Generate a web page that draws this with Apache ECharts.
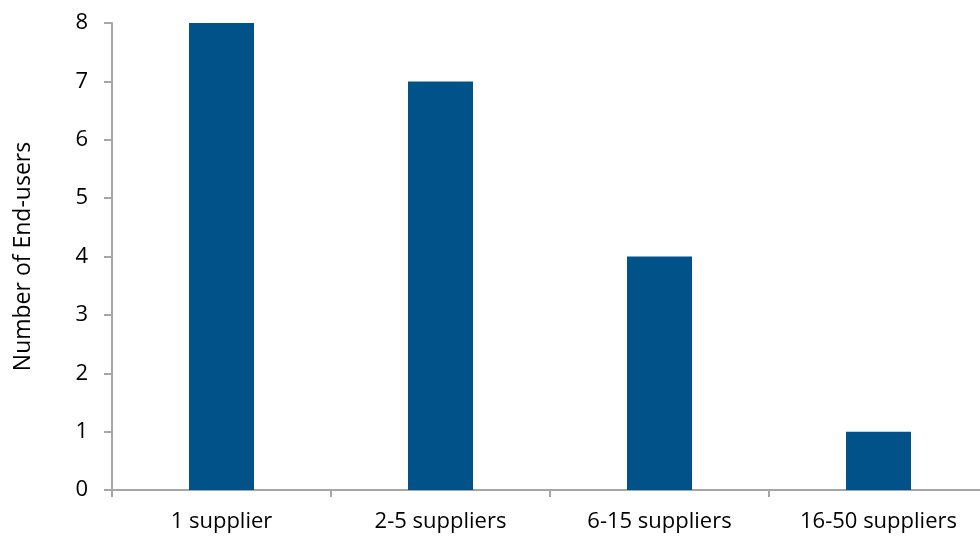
<!DOCTYPE html>
<html>
<head>
<meta charset="utf-8">
<script src="https://cdn.jsdelivr.net/npm/echarts@6/dist/echarts.min.js"></script>
<style>
  html, body { margin: 0; padding: 0; background: #ffffff; }
  #chart { width: 980px; height: 539px; }
</style>
</head>
<body>
<div id="chart"></div>
<script>
// Supplier-count buckets and how many end-users fall in each
const categories = ['1 supplier', '2-5 suppliers', '6-15 suppliers', '16-50 suppliers'];
const endUsers = [8, 7, 4, 1];
const yTicks = { min: 0, max: 8, interval: 1 };

const fontFamily = '"Open Sans", "Liberation Sans", sans-serif';
const axisGrey = '#a6a6a6';

const chart = echarts.init(document.getElementById('chart'), null, { renderer: 'canvas' });
chart.setOption({
  animation: false,
  backgroundColor: '#ffffff',
  grid: {
    left: 112, right: -8, top: 23, bottom: 49,
    containLabel: false,
    outerBoundsMode: 'none'
  },
  xAxis: {
    type: 'category',
    data: categories,
    boundaryGap: true,
    axisLine: { show: true, lineStyle: { color: axisGrey, width: 2 } },
    axisTick: { show: true, alignWithLabel: false, length: 7, lineStyle: { color: axisGrey, width: 2 } },
    axisLabel: { color: '#000000', fontSize: 22, fontFamily: fontFamily, margin: 21 },
    splitLine: { show: false }
  },
  yAxis: {
    type: 'value',
    min: yTicks.min,
    max: yTicks.max,
    interval: yTicks.interval,
    name: 'Number of End-users',
    nameLocation: 'middle',
    nameGap: 77,
    nameRotate: 90,
    nameTextStyle: { color: '#000000', fontSize: 23, fontFamily: fontFamily },
    axisLine: { show: true, lineStyle: { color: axisGrey, width: 2 } },
    axisTick: { show: true, length: 8, lineStyle: { color: axisGrey, width: 2 } },
    axisLabel: { color: '#000000', fontSize: 22, fontFamily: fontFamily, margin: 24 },
    splitLine: { show: false }
  },
  series: [{
    type: 'bar',
    data: endUsers,
    barWidth: 65,
    itemStyle: { color: '#02528a' }
  }]
});
</script>
</body>
</html>
